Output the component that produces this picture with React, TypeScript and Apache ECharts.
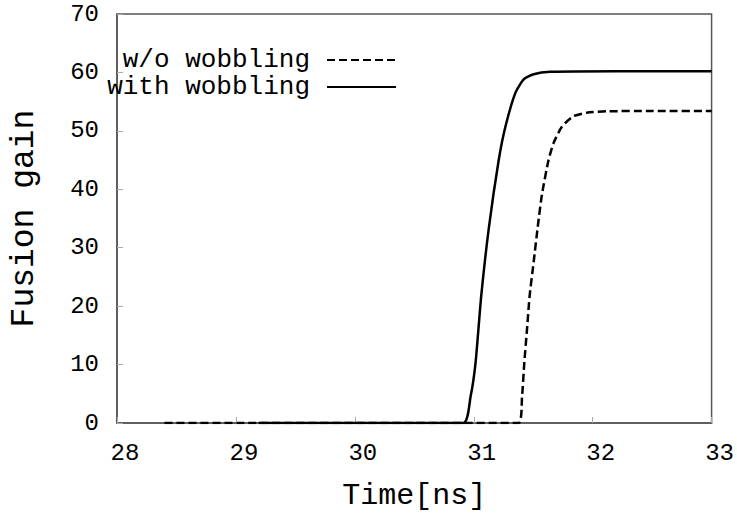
import React, { useEffect, useRef } from "react";
import * as echarts from "echarts";

const xTicks = [28, 29, 30, 31, 32, 33];
const yTicks = [0, 10, 20, 30, 40, 50, 60, 70];

const seriesNames = ["w/o wobbling", "with wobbling"];

// Time [ns], fusion gain
const withoutWobbling: [number, number][] = [
  [28.4, 0], [31.378, 0], [31.406, 4.5], [31.425, 10.3], [31.448, 16.1],
  [31.47, 21.8], [31.504, 27.6], [31.537, 33.4], [31.574, 39.2],
  [31.629, 45], [31.671, 47.9], [31.741, 50.7], [31.838, 52.5],
  [31.95, 53.1], [32.12, 53.35], [32.5, 53.4], [33, 53.4],
];

const withWobbling: [number, number][] = [
  [29.19, 0], [30.912, 0], [30.973, 4.5], [31.015, 10.3], [31.063, 21.8],
  [31.127, 33.4], [31.21, 45], [31.266, 50.7], [31.35, 56.5],
  [31.42, 58.8], [31.504, 59.7], [31.643, 60.1], [32.2, 60.2], [33, 60.2],
];

const FONT = "Liberation Mono";

export default function App() {
  const ref = useRef<HTMLDivElement>(null);
  useEffect(() => {
    if (!ref.current) return;
    const chart = echarts.init(ref.current, null, { renderer: "svg" });
    const legendCommon = {
      right: 340, align: "right", orient: "vertical",
      padding: 0, itemWidth: 69, itemHeight: 14, itemGap: 0,
      itemStyle: { opacity: 0 },
      textStyle: { fontFamily: FONT, fontSize: 26, color: "#000", padding: [0, 12, 0, 0] },
    };
    chart.setOption({
      animation: false,
      backgroundColor: "#ffffff",
      grid: {
        left: 115, right: 25, top: 14, bottom: 88,
        show: true, borderColor: "#555", borderWidth: 1.5,
        containLabel: false,
      },
      legend: [
        { ...legendCommon, data: [seriesNames[0]], top: 47 },
        { ...legendCommon, data: [seriesNames[1]], top: 74 },
      ],
      xAxis: {
        type: "value", min: xTicks[0], max: xTicks[xTicks.length - 1], interval: 1,
        name: "Time[ns]", nameLocation: "middle", nameGap: 58,
        nameTextStyle: { fontFamily: FONT, fontSize: 30, color: "#000" },
        axisLine: { show: true, lineStyle: { color: "#555", width: 1.5 } },
        axisTick: { show: true, inside: true, length: 6, lineStyle: { color: "#aaa" } },
        axisLabel: { fontFamily: FONT, fontSize: 24, color: "#000", margin: 18, padding: [0, 0, 0, 16] },
        splitLine: { show: false },
      },
      yAxis: {
        type: "value", min: yTicks[0], max: yTicks[yTicks.length - 1], interval: 10,
        name: "Fusion gain", nameLocation: "middle", nameGap: 76,
        nameTextStyle: { fontFamily: FONT, fontSize: 33, color: "#000" },
        axisLine: { show: true, lineStyle: { color: "#555", width: 1.5 } },
        axisTick: { show: true, inside: true, length: 6, lineStyle: { color: "#aaa" } },
        axisLabel: { fontFamily: FONT, fontSize: 24, color: "#000", margin: 18 },
        splitLine: { show: false },
      },
      series: [
        {
          name: seriesNames[0], type: "line", data: withoutWobbling,
          symbol: "none", smooth: 0.2,
          lineStyle: { color: "#000", width: 2.5, type: [8, 4] },
          itemStyle: { color: "#000" },
        },
        {
          name: seriesNames[1], type: "line", data: withWobbling,
          symbol: "none", smooth: 0.2,
          lineStyle: { color: "#000", width: 2.5, type: "solid" },
          itemStyle: { color: "#000" },
        },
      ],
    });
    return () => chart.dispose();
  }, []);
  return (
    <div
      ref={ref}
      style={{ position: "fixed", left: 0, top: 0, width: 737, height: 516 }}
    />
  );
}
